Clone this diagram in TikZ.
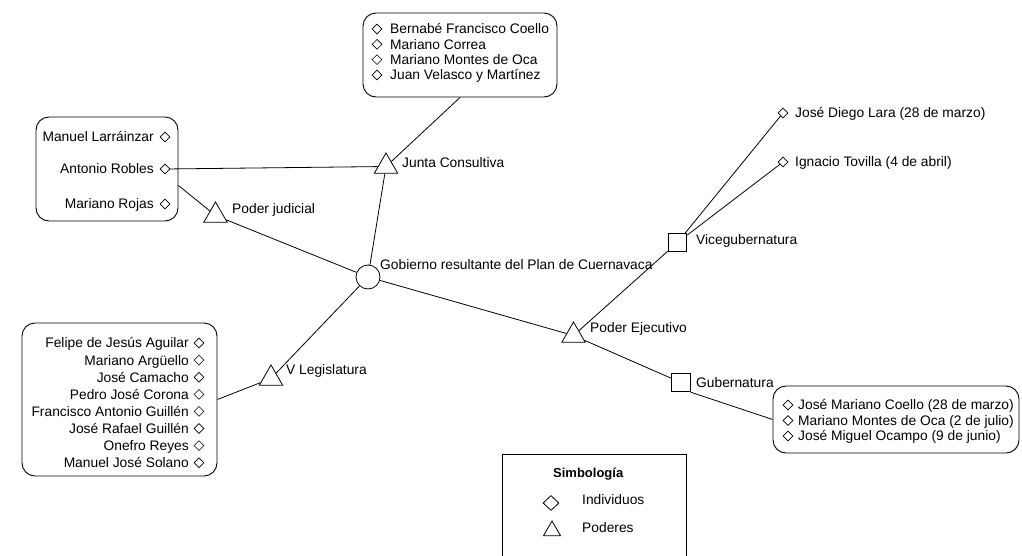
\documentclass[tikz,border=0pt]{standalone}
\usepackage{fontspec}
\setmainfont{Liberation Sans}
\usetikzlibrary{shapes.geometric}
\begin{document}
\begin{tikzpicture}[x=1pt,y=-1pt,
  conn/.style={line width=0.8pt},
  listbox/.style={draw, rounded corners=13pt, line width=0.9pt, inner sep=0pt},
  ind/.style={draw, diamond, inner sep=0pt, minimum width=10pt, minimum height=10pt, line width=0.6pt, fill=white},
  pod/.style={draw, regular polygon, regular polygon sides=3, minimum size=27pt, inner sep=0pt, line width=0.8pt, fill=white},
  sq/.style={draw, rectangle, minimum size=18.5pt, inner sep=0pt, line width=0.8pt, fill=white},
  gobst/.style={draw, circle, minimum size=24pt, inner sep=0pt, line width=0.8pt, fill=white},
  lbl/.style={inner sep=0pt, text height=9.8pt, text depth=0pt, font=\fontsize{13.8}{15}\selectfont},
  frame/.style={line width=0.9pt}
]
\useasboundingbox (0,0) rectangle (1022,555);

% ---- boxes
\node[listbox, minimum width=142pt, minimum height=104pt] (b1) at (107,169) {};
\node[listbox, minimum width=195pt, minimum height=153pt] (b2) at (119.5,399.5) {};
\node[listbox, minimum width=194pt, minimum height=84pt] (b3) at (460,55) {};
\node[listbox, minimum width=246pt, minimum height=67pt] (b4) at (896,419.5) {};

% ---- box 1 (Poder judicial)
\node[lbl, anchor=east] (t11) at (154,137) {Manuel Larráinzar};
\node[ind] (d11) at (165,137) {};
\node[lbl, anchor=east] (t12) at (154,169) {Antonio Robles};
\node[ind] (d12) at (165,169) {};
\node[lbl, anchor=east] (t13) at (154,204) {Mariano Rojas};
\node[ind] (d13) at (165,204) {};

% ---- box 2 (V Legislatura)
\node[lbl, anchor=east] (t21) at (189,343) {Felipe de Jesús Aguilar};
\node[ind] (d21) at (199,343) {};
\node[lbl, anchor=east] (t22) at (189,360.1) {Mariano Argüello};
\node[ind] (d22) at (199,360.1) {};
\node[lbl, anchor=east] (t23) at (189,377.2) {José Camacho};
\node[ind] (d23) at (199,377.2) {};
\node[lbl, anchor=east] (t24) at (189,394.3) {Pedro José Corona};
\node[ind] (d24) at (199,394.3) {};
\node[lbl, anchor=east] (t25) at (189,411.4) {Francisco Antonio Guillén};
\node[ind] (d25) at (199,411.4) {};
\node[lbl, anchor=east] (t26) at (189,428.5) {José Rafael Guillén};
\node[ind] (d26) at (199,428.5) {};
\node[lbl, anchor=east] (t27) at (189,445.6) {Onefro Reyes};
\node[ind] (d27) at (199,445.6) {};
\node[lbl, anchor=east] (t28) at (189,462.7) {Manuel José Solano};
\node[ind] (d28) at (199,462.7) {};

% ---- box 3 (Junta Consultiva)
\node[ind] (d31) at (377,29) {};
\node[lbl, anchor=west] (t31) at (390,29) {Bernabé Francisco Coello};
\node[ind] (d32) at (377,44.3) {};
\node[lbl, anchor=west] (t32) at (390,44.3) {Mariano Correa};
\node[ind] (d33) at (377,59.6) {};
\node[lbl, anchor=west] (t33) at (390,59.6) {Mariano Montes de Oca};
\node[ind] (d34) at (377,75) {};
\node[lbl, anchor=west] (t34) at (390,75) {Juan Velasco y Martínez};

% ---- box 4 (Gubernatura)
\node[ind] (d41) at (788,405) {};
\node[lbl, anchor=west] (t41) at (798,405) {José Mariano Coello (28 de marzo)};
\node[ind] (d42) at (788,420.5) {};
\node[lbl, anchor=west] (t42) at (798,420.5) {Mariano Montes de Oca (2 de julio)};
\node[ind] (d43) at (788,436) {};
\node[lbl, anchor=west] (t43) at (798,436) {José Miguel Ocampo (9 de junio)};

% ---- main nodes
\node[gobst] (gob) at (368,277) {};
\node[lbl, anchor=west] (gobl) at (380,265) {Gobierno resultante del Plan de Cuernavaca};
\node[pod] (junta) at (386,166.5) {};
\node[lbl, anchor=west] (juntal) at (402,163) {Junta Consultiva};
\node[pod] (judicial) at (215.5,215.5) {};
\node[lbl, anchor=west] (judiciall) at (232,209) {Poder judicial};
\node[pod] (vleg) at (271,378.5) {};
\node[lbl, anchor=west] (vlegl) at (286,370) {V Legislatura};
\node[pod] (ejec) at (573.5,335.5) {};
\node[lbl, anchor=west] (ejecl) at (590,328) {Poder Ejecutivo};
\node[sq] (vice) at (677.5,242.5) {};
\node[lbl, anchor=west] (vicel) at (696,240) {Vicegubernatura};
\node[sq] (gub) at (681,382.5) {};
\node[lbl, anchor=west] (gubl) at (696,383) {Gubernatura};

\node[ind] (dlara) at (783,113) {};
\node[lbl, anchor=west] (tlara) at (795,113) {José Diego Lara (28 de marzo)};
\node[ind] (dtov) at (783,162) {};
\node[lbl, anchor=west] (ttov) at (795,162) {Ignacio Tovilla (4 de abril)};

% ---- connectors
\draw[conn] (b3.south) -- (junta);
\draw[conn] (d12) -- (junta);
\draw[conn] (b1.-13) -- (judicial);
\draw[conn] (judicial) -- (gob);
\draw[conn] (gob) -- (junta);
\draw[conn] (gob) -- (vleg);
\draw[conn] (vleg) -- (b2.east);
\draw[conn] (gob) -- (ejec);
\draw[conn] (ejec) -- (vice);
\draw[conn] (ejec) -- (gub);
\draw[conn] (vice) -- (dlara);
\draw[conn] (vice) -- (dtov);
\draw[conn] (gub.south east) -- (b4.west);

% ---- legend
\coordinate (lg1) at (502,556);
\coordinate (lg2) at (502,454);
\coordinate (lg3) at (686,454);
\coordinate (lg4) at (686,556);
\draw[frame] (lg1) -- (lg2) -- (lg3) -- (lg4);
\node[lbl, anchor=west, font=\bfseries\fontsize{13}{15}\selectfont] (legt) at (553,473) {Simbología};
\node[draw, diamond, inner sep=0pt, minimum width=16pt, minimum height=15pt, line width=0.8pt] (legd) at (551,503) {};
\node[lbl, anchor=west] (legdl) at (582,500) {Individuos};
\node[draw, regular polygon, regular polygon sides=3, minimum size=19.6pt, inner sep=0pt, line width=0.8pt] (legp) at (552,530.8) {};
\node[lbl, anchor=west] (legpl) at (582,528) {Poderes};
\end{tikzpicture}
\end{document}
